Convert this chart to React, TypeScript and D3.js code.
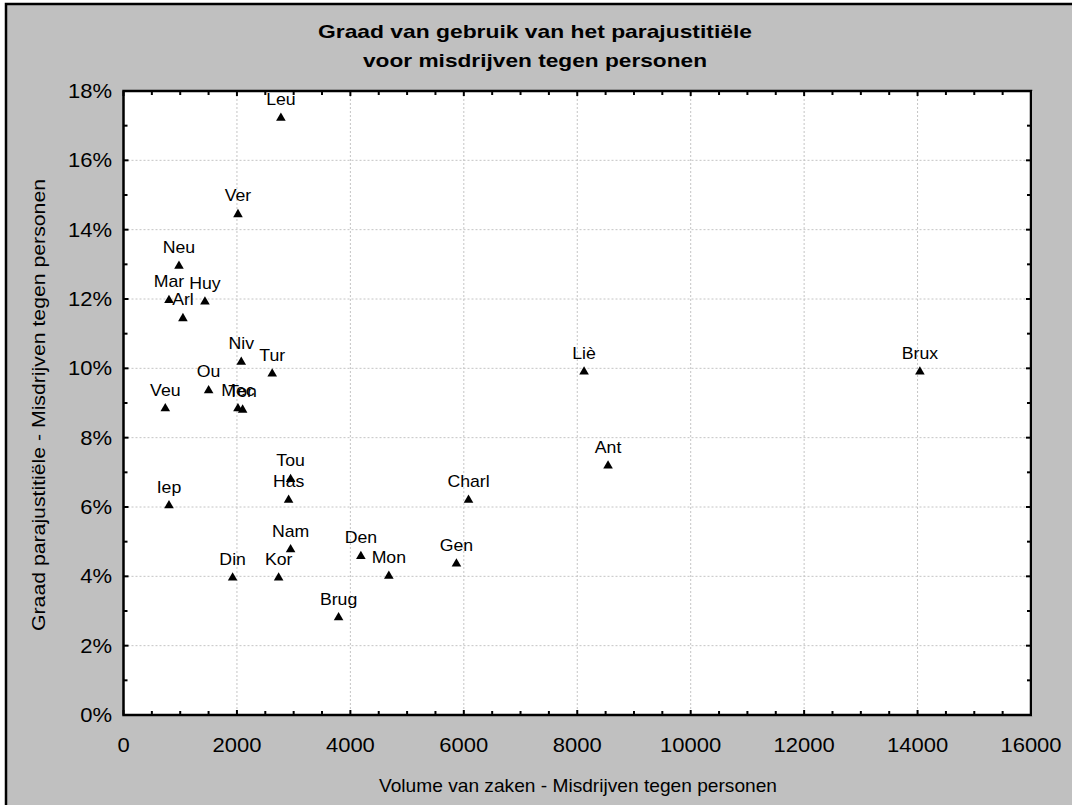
import React from "react";
import * as d3 from "d3";

const labels = ["Leu","Ver","Neu","Mar","Huy","Arl","Niv","Tur","Ou","Veu","Mec","Ton","Tou","Has","Iep","Charl","Liè","Brux","Ant","Gen","Nam","Den","Mon","Din","Kor","Brug"];
const volumes = [2775,2018,978,802,1436,1048,2076,2622,1501,737,2018,2100,2946,2911,802,6083,8120,14041,8543,5870,2946,4185,4678,1924,2735,3792];
const rates = [17.25,14.47,12.98,11.99,11.95,11.47,10.21,9.87,9.39,8.87,8.87,8.83,6.83,6.23,6.07,6.23,9.93,9.93,7.22,4.39,4.80,4.61,4.04,3.99,3.99,2.84];
const xTicks = [0,2000,4000,6000,8000,10000,12000,14000,16000];
const yTicks = [0,2,4,6,8,10,12,14,16,18];
const titleLines = ["Graad van gebruik van het parajustitiële", "voor misdrijven tegen personen"];
const xTitle = "Volume van zaken - Misdrijven tegen personen";
const yTitle = "Graad parajustitiële - Misdrijven tegen personen";

export default function App() {
  const W = 1072, H = 805;
  const L = 123.5, R = 1031, T = 91, B = 715;
  const x = d3.scaleLinear().domain([0, 16000]).range([L, R]);
  const y = d3.scaleLinear().domain([0, 18]).range([B, T]);
  const font = "Arial, 'Liberation Sans', sans-serif";
  const tri = d3.symbol().type(d3.symbolTriangle).size(40)();
  const xMinor = d3.range(0, 16001, 500);
  const yMinor = d3.range(0, 18.01, 1);
  const titleW = [434, 344];
  return (
    <svg width={W} height={H} style={{ position: "absolute", left: 0, top: 0, background: "#fff" }}>
      <rect x={6} y={4} width={W} height={H} fill="#c0c0c0" stroke="#000" strokeWidth={2.5} />
      <rect x={L} y={T} width={R - L + 2} height={B - T + 1} fill="#fff" />
      {xTicks.slice(1, -1).map((t) => (
        <line key={"gx" + t} x1={x(t)} x2={x(t)} y1={T} y2={B} stroke="#c4c4c4" strokeDasharray="2,2" />
      ))}
      {yTicks.slice(1, -1).map((t) => (
        <line key={"gy" + t} x1={L} x2={R} y1={y(t)} y2={y(t)} stroke="#c4c4c4" strokeDasharray="2,2" />
      ))}
      {xMinor.map((t) => {
        const len = t % 2000 === 0 ? 5 : 4;
        return (
          <g key={"tx" + t}>
            <line x1={x(t)} x2={x(t)} y1={B} y2={B - len} stroke="#000" strokeWidth={2} />
            <line x1={x(t)} x2={x(t)} y1={T} y2={T + len} stroke="#000" strokeWidth={2} />
          </g>
        );
      })}
      {yMinor.map((t) => {
        const len = t % 2 === 0 ? 5 : 4;
        return (
          <g key={"ty" + t}>
            <line x1={L} x2={L + len} y1={y(t)} y2={y(t)} stroke="#000" strokeWidth={2} />
            <line x1={R} x2={R - len} y1={y(t)} y2={y(t)} stroke="#000" strokeWidth={2} />
          </g>
        );
      })}
      <rect x={L} y={T} width={R - L} height={B - T} fill="none" stroke="#000" strokeWidth={2.5} />
      {xTicks.map((t) => (
        <text key={"lx" + t} transform={`translate(${x(t)},752) scale(1.1,1)`} textAnchor="middle" fontFamily={font} fontSize={20} fill="#000">{t}</text>
      ))}
      {yTicks.map((t) => (
        <text key={"ly" + t} transform={`translate(112,${y(t) + 7}) scale(1.1,1)`} textAnchor="end" fontFamily={font} fontSize={20} fill="#000">{t + "%"}</text>
      ))}
      {labels.map((lab, i) => (
        <g key={"p" + i}>
          <path d={tri} transform={`translate(${x(volumes[i])},${y(rates[i]) + 1})`} fill="#000" />
          <text transform={`translate(${x(volumes[i])},${y(rates[i]) - 12}) scale(1.04,1)`} textAnchor="middle" fontFamily={font} fontSize={17} fill="#000">{lab}</text>
        </g>
      ))}
      {titleLines.map((s, i) => (
        <text key={"t" + i} x={535} y={38 + i * 29} textAnchor="middle" textLength={titleW[i]} lengthAdjust="spacingAndGlyphs" fontFamily={font} fontSize={19} fontWeight="bold" fill="#000">{s}</text>
      ))}
      <text x={578} y={792} textAnchor="middle" textLength={398} lengthAdjust="spacingAndGlyphs" fontFamily={font} fontSize={19} fill="#000">{xTitle}</text>
      <text transform={`translate(45,405) rotate(-90)`} textAnchor="middle" textLength={452} lengthAdjust="spacingAndGlyphs" fontFamily={font} fontSize={19} fill="#000">{yTitle}</text>
    </svg>
  );
}
